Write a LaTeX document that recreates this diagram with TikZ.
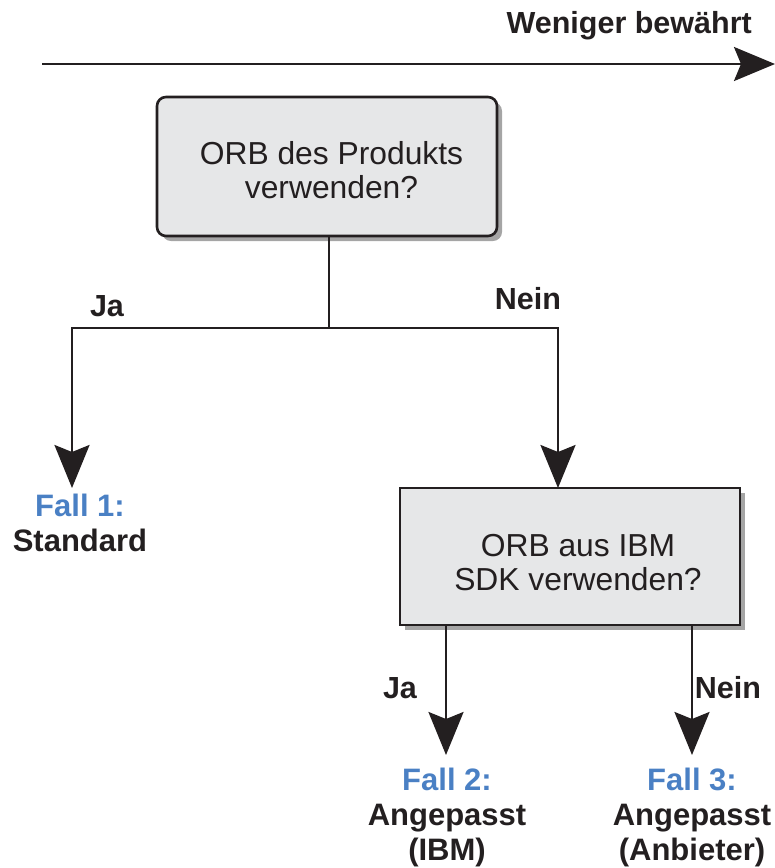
\documentclass[tikz,border=0pt]{standalone}
\usepackage{fontspec}
\setmainfont{Liberation Sans}
\usetikzlibrary{arrows.meta,shadows}
\definecolor{boxfill}{RGB}{230,231,232}
\definecolor{shadowgray}{RGB}{165,165,165}
\definecolor{fallblue}{RGB}{74,128,196}
\definecolor{ink}{RGB}{35,31,32}
\tikzset{
  qbox/.style={draw=ink, line width=2.6pt, fill=boxfill, minimum width=340pt,
    drop shadow={shadow xshift=5pt, shadow yshift=-5pt, fill=shadowgray, opacity=1}},
  qtext/.style={align=center, text=ink, inner sep=0pt,
    font=\fontsize{31.8}{34}\selectfont},
  lbl/.style={font=\fontsize{30.5}{35}\selectfont\bfseries, text=ink, inner sep=0pt},
  casetext/.style={font=\fontsize{31}{35}\selectfont\bfseries, text=ink, align=center, inner sep=0pt, anchor=north},
  conn/.style={draw=ink, line width=2.5pt},
  arr/.style={conn, -{Stealth[length=43pt, width=35pt, inset=7pt]}},
}
\begin{document}
\begin{tikzpicture}[x=1pt,y=-1pt]
\useasboundingbox (0,0) rectangle (775,868);
% top axis
\coordinate (axs) at (42,64);
\coordinate (axe) at (775,64);
\draw[conn, -{Stealth[length=41pt, width=34pt, inset=7pt]}] (axs) -- (axe);
\node[lbl, anchor=base east] (less) at (752,33) {Weniger bewährt};
% boxes
\node[qbox, rounded corners=9pt, minimum height=139pt] (b1) at (327,166.5) {};
\node[qtext] (b1t) at (331.5,170) {ORB des Produkts\\verwenden?};
\node[qbox, minimum height=137pt] (b2) at (570,556.5) {};
\node[qtext] (b2t) at (578,563) {ORB aus IBM\\SDK verwenden?};
% case texts
\node[casetext] (f1) at (80,494) {\textcolor{fallblue}{Fall 1:}\\Standard};
\node[casetext] (f2) at (447,768) {\textcolor{fallblue}{Fall 2:}\\Angepasst\\(IBM)};
\node[casetext] (f3) at (692,768) {\textcolor{fallblue}{Fall 3:}\\Angepasst\\(Anbieter)};
% connectors
\coordinate (split) at (329,328);
\coordinate (t1) at (72,488);
\coordinate (t2) at (558,488);
\coordinate (s2l) at (446,625);
\coordinate (s2r) at (692,625);
\coordinate (t3) at (446,755);
\coordinate (t4) at (692,755);
\draw[conn] (b1.south -| split) -- (split);
\draw[arr] (split) -| (t1);
\draw[arr] (split) -| (t2);
\draw[arr] (s2l) -- (t3);
\draw[arr] (s2r) -- (t4);
% labels
\node[lbl, anchor=base] (ja1) at (107,316) {Ja};
\node[lbl, anchor=base] (nein1) at (528,309) {Nein};
\node[lbl, anchor=base] (ja2) at (400,698) {Ja};
\node[lbl, anchor=base] (nein2) at (728,698) {Nein};
\end{tikzpicture}
\end{document}
